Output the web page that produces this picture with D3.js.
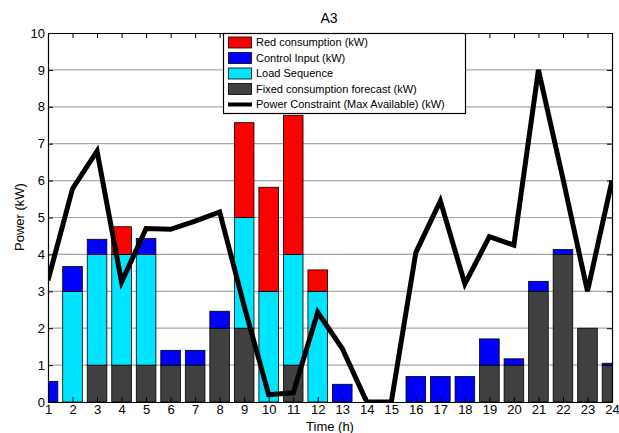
<!DOCTYPE html>
<html>
<head>
<meta charset="utf-8">
<script src="https://cdn.jsdelivr.net/npm/d3@7/dist/d3.min.js"></script>
<style>
  html, body { margin: 0; padding: 0; background: #fff; }
  svg { display: block; font-family: "Liberation Sans", Arial, sans-serif; }
</style>
</head>
<body>
<svg id="chart" width="619" height="433"></svg>
<script>
// Hours of the day
const hours = d3.range(1, 25);

// Stacked components per hour (kW), bottom to top
const fixedForecast = [0, 0, 1, 1, 1, 1, 1, 2, 2, 0, 1, 0, 0, 0, 0, 0, 0, 0, 1, 1, 3, 4, 2, 1];
const loadSequence  = [0, 3, 3, 3, 3, 0, 0, 0, 3, 3, 3, 3, 0, 0, 0, 0, 0, 0, 0, 0, 0, 0, 0, 0];
const controlInput  = [0.56, 0.67, 0.41, 0, 0.43, 0.4, 0.4, 0.46, 0, 0, 0, 0, 0.48, 0, 0, 0.69, 0.69, 0.69, 0.71, 0.17, 0.27, 0.13, 0, 0.05];
const redConsumption = [0, 0, 0, 0.75, 0, 0, 0, 0, 2.57, 2.82, 3.77, 0.58, 0, 0, 0, 0, 0, 0, 0, 0, 0, 0, 0, 0];

// Maximum available power per hour (kW)
const powerConstraint = [3.3, 5.78, 6.8, 3.25, 4.7, 4.68, 4.9, 5.15, 2.6, 0.2, 0.25, 2.43, 1.45, 0, 0, 4.05, 5.45, 3.2, 4.48, 4.25, 9.0, 6.05, 3.0, 6.0];

const yTicks = d3.range(0, 11);

const seriesInfo = [
  { key: "fixed",   name: "Fixed consumption forecast (kW)", color: "#404040", values: fixedForecast },
  { key: "load",    name: "Load Sequence",                   color: "#00e5ff", values: loadSequence },
  { key: "control", name: "Control Input (kW)",              color: "#0000ff", values: controlInput },
  { key: "red",     name: "Red consumption (kW)",            color: "#ff0000", values: redConsumption }
];

const svg = d3.select("#chart");
const plotLeft = 48, plotRight = 612, plotTop = 33, plotBottom = 402;

const x = d3.scaleLinear().domain([1, 24]).range([plotLeft, plotRight]);
const y = d3.scaleLinear().domain([0, 10]).range([plotBottom, plotTop]);
const barW = x(1.8) - x(1);

// Clip region for the plotting area
svg.append("defs").append("clipPath").attr("id", "plotClip")
  .append("rect").attr("x", plotLeft).attr("y", plotTop)
  .attr("width", plotRight - plotLeft).attr("height", plotBottom - plotTop);

// Horizontal grid lines
svg.append("g").selectAll("line").data(yTicks.slice(1, -1)).join("line")
  .attr("x1", plotLeft).attr("x2", plotRight)
  .attr("y1", d => y(d)).attr("y2", d => y(d))
  .attr("stroke", "#a8a8a8").attr("stroke-width", 1.2);

// Stacked bars
const table = hours.map((h, i) => {
  const row = { hour: h };
  seriesInfo.forEach(s => { row[s.key] = s.values[i]; });
  return row;
});
const stacked = d3.stack().keys(seriesInfo.map(s => s.key))(table);

const plot = svg.append("g").attr("clip-path", "url(#plotClip)");
plot.selectAll("g.layer").data(stacked).join("g")
  .attr("class", "layer")
  .attr("fill", (d, i) => seriesInfo[i].color)
  .selectAll("rect").data(d => d.filter(p => p[1] - p[0] > 0)).join("rect")
  .attr("x", d => x(d.data.hour) - barW / 2)
  .attr("width", barW)
  .attr("y", d => y(d[1]))
  .attr("height", d => y(d[0]) - y(d[1]))
  .attr("stroke", "#000").attr("stroke-width", 0.8);

// Power constraint line
plot.append("path")
  .datum(hours.map((h, i) => [h, powerConstraint[i]]))
  .attr("fill", "none").attr("stroke", "#000").attr("stroke-width", 5)
  .attr("stroke-linejoin", "miter")
  .attr("d", d3.line().x(d => x(d[0])).y(d => y(d[1])));

// Axes (ticks point inward, mirrored on top and right)
const tickLen = 5;
const axisBottom = svg.append("g").attr("transform", `translate(0,${plotBottom})`)
  .call(d3.axisBottom(x).tickValues(hours).tickFormat(d3.format("d")).tickSizeInner(-tickLen).tickSizeOuter(0).tickPadding(3));
const axisTop = svg.append("g").attr("transform", `translate(0,${plotTop})`)
  .call(d3.axisTop(x).tickValues(hours).tickFormat("").tickSizeInner(-tickLen).tickSizeOuter(0));
const axisLeft = svg.append("g").attr("transform", `translate(${plotLeft},0)`)
  .call(d3.axisLeft(y).tickValues(yTicks).tickFormat(d3.format("d")).tickSizeInner(-tickLen).tickSizeOuter(0).tickPadding(3));
const axisRight = svg.append("g").attr("transform", `translate(${plotRight},0)`)
  .call(d3.axisRight(y).tickValues(yTicks).tickFormat("").tickSizeInner(-tickLen).tickSizeOuter(0));

[axisBottom, axisTop, axisLeft, axisRight].forEach(g => {
  g.select(".domain").attr("stroke", "#000").attr("stroke-width", 1.2);
  g.selectAll(".tick line").attr("stroke", "#000");
  g.selectAll(".tick text").attr("font-size", 13).attr("fill", "#000")
    .attr("font-family", "Liberation Sans, Arial, sans-serif");
});

// Title and axis labels
svg.append("text").attr("x", 329).attr("y", 23).attr("text-anchor", "middle")
  .attr("font-size", 14).text("A3");
svg.append("text").attr("x", 330).attr("y", 431).attr("text-anchor", "middle")
  .attr("font-size", 13).text("Time (h)");
svg.append("text").attr("transform", "translate(24,217) rotate(-90)").attr("text-anchor", "middle")
  .attr("font-size", 13).text("Power (kW)");

// Legend
const legend = svg.append("g");
legend.append("rect").attr("x", 223.5).attr("y", 33.5).attr("width", 242).attr("height", 80)
  .attr("fill", "#fff").attr("stroke", "#000").attr("stroke-width", 1.2);
const legendItems = [
  { name: seriesInfo[3].name, color: seriesInfo[3].color, type: "patch" },
  { name: seriesInfo[2].name, color: seriesInfo[2].color, type: "patch" },
  { name: seriesInfo[1].name, color: seriesInfo[1].color, type: "patch" },
  { name: seriesInfo[0].name, color: seriesInfo[0].color, type: "patch" },
  { name: "Power Constraint (Max Available) (kW)", color: "#000", type: "line" }
];
const rowY = i => 42.5 + i * 15.5;
legendItems.forEach((it, i) => {
  if (it.type === "patch") {
    legend.append("rect").attr("x", 228.5).attr("y", rowY(i) - 5.5).attr("width", 23).attr("height", 11)
      .attr("fill", it.color).attr("stroke", "#000").attr("stroke-width", 0.8);
  } else {
    legend.append("line").attr("x1", 228).attr("x2", 252).attr("y1", rowY(i)).attr("y2", rowY(i))
      .attr("stroke", "#000").attr("stroke-width", 4);
  }
  legend.append("text").attr("x", 256).attr("y", rowY(i)).attr("dy", "0.35em")
    .attr("font-size", 11).text(it.name);
});
</script>
</body>
</html>
